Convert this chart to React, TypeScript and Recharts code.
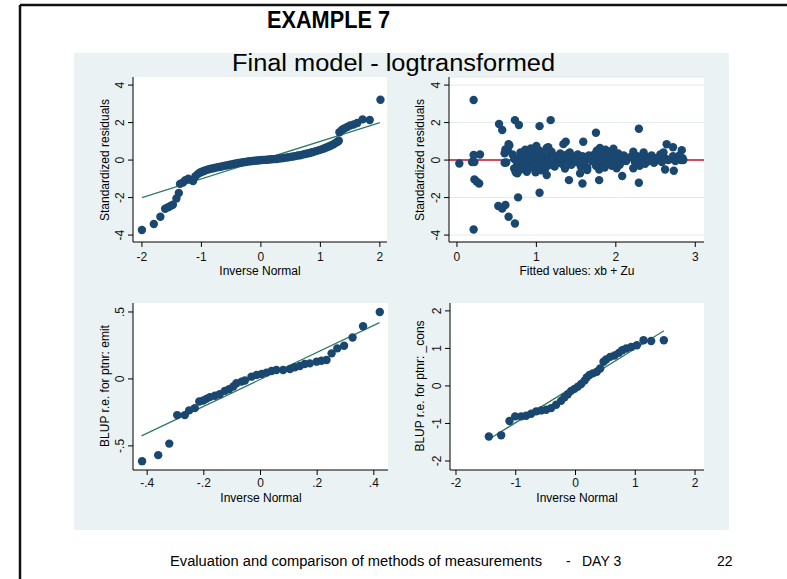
import React from 'react';
import { ScatterChart, Scatter, XAxis, YAxis, CartesianGrid, ReferenceLine } from 'recharts';

const FONT = '"Liberation Sans", Arial, Helvetica, sans-serif';
const NAVY = '#1a476f';
const FIT = '#2f7a62';
const RED = '#c8102e';
const PANEL = '#eaf2f3';

// ---- Panel 1: qnorm of standardized residuals ----
const resQnX = [-2.0, -1.8, -1.69, -1.61, -1.56, -1.52, -1.48, -1.42, -1.38, -1.36, -1.31, -1.27, -1.22, -1.17, -1.14, -1.1, -1.06, -1.03, -1.0, -0.97, -0.94, -0.9, -0.86, -0.82, -0.78, -0.74, -0.7, -0.66, -0.62, -0.58, -0.54, -0.5, -0.46, -0.42, -0.38, -0.34, -0.3, -0.26, -0.22, -0.18, -0.14, -0.1, -0.06, -0.02, 0.02, 0.06, 0.1, 0.14, 0.18, 0.22, 0.26, 0.3, 0.34, 0.38, 0.42, 0.46, 0.5, 0.54, 0.58, 0.62, 0.66, 0.7, 0.74, 0.78, 0.82, 0.86, 0.9, 0.94, 0.98, 1.02, 1.06, 1.1, 1.14, 1.18, 1.22, 1.26, 1.29, 1.31, 1.32, 1.36, 1.4, 1.45, 1.5, 1.56, 1.62, 1.71, 1.83, 2.01];
const resQnY = [-3.73, -3.41, -3.02, -2.6, -2.52, -2.45, -2.38, -2.05, -1.76, -1.27, -1.2, -1.08, -1.0, -1.07, -1.12, -0.86, -0.75, -0.68, -0.64, -0.6, -0.56, -0.52, -0.48, -0.45, -0.42, -0.39, -0.37, -0.34, -0.31, -0.29, -0.26, -0.24, -0.21, -0.18, -0.16, -0.14, -0.12, -0.1, -0.08, -0.06, -0.05, -0.04, -0.02, -0.01, 0.0, 0.01, 0.02, 0.03, 0.04, 0.05, 0.06, 0.08, 0.09, 0.11, 0.13, 0.15, 0.17, 0.19, 0.21, 0.24, 0.26, 0.29, 0.32, 0.35, 0.38, 0.42, 0.45, 0.49, 0.53, 0.57, 0.62, 0.67, 0.72, 0.78, 0.84, 0.92, 0.98, 1.03, 1.48, 1.6, 1.68, 1.76, 1.84, 1.9, 1.98, 2.17, 2.14, 3.22];
const resQnLine = [{ x: -2, y: -2 }, { x: 2, y: 2 }];

// ---- Panel 2: residuals vs fitted ----
const fittedX = [0.03, 0.21, 0.19, 0.22, 0.21, 0.29, 0.22, 0.25, 0.28, 0.21, 0.53, 0.57, 0.52, 0.57, 0.61, 0.65, 0.73, 0.77, 0.73, 0.78, 1.04, 1.18, 1.04, 1.75, 2.29, 2.29, 1.58, 1.79, 1.41, 2.08, 1.13, 1.59, 1.37, 1.34, 1.15, 0.65, 0.61, 0.6, 0.6, 2.64, 2.72, 2.83, 2.85, 2.73, 2.62, 2.22, 2.01, 1.64, 1.55, 0.76,
  0.62, 0.64, 0.66, 0.7, 0.72, 0.72, 0.74, 0.76, 0.78, 0.8, 0.8, 0.82, 0.84, 0.85, 0.86, 0.88, 0.88, 0.9, 0.91, 0.93, 0.94, 0.95, 0.97, 0.98, 0.99, 1.0, 1.01, 1.02, 1.04, 1.05, 1.06, 1.08, 1.09, 1.11, 1.12, 1.13, 1.14, 1.16, 1.17, 1.19, 1.21, 1.23, 1.25, 1.27, 1.3, 1.32, 1.34, 1.36, 1.38, 1.4, 1.42, 1.44, 1.47, 1.5, 1.52, 1.54, 1.56, 1.58, 1.6, 1.62, 1.64, 1.66, 1.7, 1.73, 1.75, 1.76, 1.78, 1.79, 1.8, 1.82, 1.83, 1.85, 1.86, 1.87, 1.89, 1.9, 1.92, 1.94, 1.95, 1.97, 1.99, 2.0, 2.03, 2.05, 2.07, 2.1, 2.13, 2.18, 2.22, 2.24, 2.27, 2.3, 2.32, 2.35, 2.37, 2.4, 2.42, 2.45, 2.48, 2.5, 2.53, 2.56, 2.58, 2.6, 2.62, 2.66, 2.7, 2.72, 2.75, 2.78, 2.8, 2.82, 2.84];
const residY = [-0.18, 3.2, -0.1, -0.1, 0.27, 0.3, -1.03, -1.16, -1.25, -3.7, 1.92, 1.6, -2.45, -2.58, -2.4, -3.02, -3.38, -1.99, 2.13, 1.87, 1.81, 2.13, -1.74, 1.46, 1.67, -1.21, -1.25, -1.07, -1.07, -0.85, -0.8, 0.98, 0.98, 0.85, 0.68, 0.85, 0.57, 0.36, -0.14, 0.84, 0.68, 0.53, 0.0, -0.57, -0.5, -0.44, -0.44, -0.53, -0.71, -0.71,
  -0.13, 0.52, 0.78, 0.3, 0.05, -0.45, -0.65, -0.2, 0.12, 0.4, -0.5, -0.05, 0.22, -0.3, 0.55, 0.05, -0.62, 0.3, -0.18, 0.62, 0.12, -0.4, 0.4, -0.08, -0.65, 0.75, 0.2, -0.3, 0.5, 0.0, -0.55, 0.3, -0.15, 0.1, -0.4, 0.65, -0.05, 0.25, -0.25, 0.45, 0.05, -0.35, 0.2, -0.1, 0.35, -0.2, 0.1, -0.45, 0.28, -0.05, 0.4, -0.25, 0.15, -0.1, 0.3, 0.0, -0.35, 0.2, -0.15, 0.05, -0.4, 0.25, -0.05, 0.3, -0.3, 0.5, 0.1, -0.5, 0.65, -0.15, 0.35, 0.0, -0.4, 0.55, 0.2, -0.2, 0.45, 0.05, -0.3, 0.6, 0.25, -0.1, 0.35, -0.25, 0.1, 0.25, -0.05, 0.15, 0.45, -0.1, 0.2, -0.3, 0.05, 0.4, -0.2, 0.15, -0.05, 0.25, -0.15, 0.1, 0.0, 0.3, -0.1, 0.4, 0.1, 0.0, 0.05, 0.2, -0.05, 0.1, 0.25, 0.0, 0.1];

// ---- Panel 3: qnorm of BLUP ptnr: emit ----
const emitQnX = [-0.418, -0.361, -0.322, -0.294, -0.267, -0.252, -0.232, -0.216, -0.202, -0.191, -0.179, -0.161, -0.144, -0.126, -0.111, -0.096, -0.085, -0.067, -0.055, -0.032, -0.014, 0.004, 0.021, 0.039, 0.056, 0.08, 0.104, 0.121, 0.139, 0.156, 0.174, 0.198, 0.215, 0.233, 0.251, 0.271, 0.295, 0.325, 0.362, 0.421];
const emitQnY = [-0.614, -0.569, -0.483, -0.27, -0.27, -0.235, -0.218, -0.168, -0.161, -0.149, -0.136, -0.126, -0.114, -0.089, -0.077, -0.057, -0.032, -0.02, -0.012, 0.017, 0.03, 0.037, 0.047, 0.059, 0.067, 0.067, 0.074, 0.087, 0.097, 0.111, 0.116, 0.129, 0.136, 0.141, 0.191, 0.228, 0.248, 0.309, 0.394, 0.5];
const emitQnLine = [{ x: -0.42, y: -0.425 }, { x: 0.42, y: 0.42 }];

// ---- Panel 4: qnorm of BLUP ptnr: _cons ----
const consQnX = [-1.45, -1.244, -1.105, -1.01, -0.909, -0.826, -0.742, -0.658, -0.575, -0.491, -0.407, -0.324, -0.24, -0.184, -0.128, -0.073, -0.017, 0.039, 0.095, 0.151, 0.19, 0.234, 0.29, 0.357, 0.413, 0.469, 0.513, 0.58, 0.653, 0.725, 0.781, 0.848, 0.932, 1.027, 1.138, 1.266, 1.478];
const consQnY = [-1.348, -1.313, -0.934, -0.811, -0.811, -0.793, -0.74, -0.678, -0.652, -0.634, -0.59, -0.502, -0.396, -0.3, -0.22, -0.132, -0.079, -0.018, 0.053, 0.141, 0.229, 0.291, 0.335, 0.379, 0.467, 0.643, 0.705, 0.775, 0.811, 0.881, 0.952, 0.996, 1.04, 1.084, 1.216, 1.198, 1.216];
const consQnLine = [{ x: -1.45, y: -1.42 }, { x: 1.48, y: 1.47 }];

// ---- ticks ----
const ticksRes = [-4, -2, 0, 2, 4];
const ticksInvNorm2 = [-2, -1, 0, 1, 2];
const ticksFitted = [0, 1, 2, 3];
const ticksEmitY = [-0.5, 0, 0.5];
const ticksEmitX = [-0.4, -0.2, 0, 0.2, 0.4];
const ticksConsY = [-2, -1, 0, 1, 2];

const zip = (xs: number[], ys: number[]) => xs.map((x, i) => ({ x, y: ys[i] }));
const fmt = (v: number) => (v === 0 ? '0' : String(v).replace('0.', '.'));

const YTick = (props: any) => {
  const { x, y, payload } = props;
  return (
    <text x={x} y={y} transform={`rotate(-90 ${x} ${y})`} textAnchor="middle" fontSize={12} fontFamily={FONT} fill="#111">
      {fmt(payload.value)}
    </text>
  );
};

const Dot = (p: any) => <circle cx={p.cx} cy={p.cy} r={4.2} fill={NAVY} />;

type PanelProps = {
  box: [number, number, number, number];
  xDomain: [number, number];
  yDomain: [number, number];
  xTicks: number[];
  yTicks: number[];
  data: { x: number; y: number }[];
  grid?: boolean;
  refLine?: { x: number; y: number }[];
  zeroLine?: boolean;
  xTickMargin?: number;
};

function Panel({ box, xDomain, yDomain, xTicks, yTicks, data, grid, refLine, zeroLine, xTickMargin = 5 }: PanelProps) {
  const [x0, y0, x1, y1] = box;
  const m = { top: 10, right: 10, bottom: 10, left: 10 };
  const yw = 40;
  const xh = 35;
  const width = x1 - x0 + m.left + m.right + yw;
  const height = y1 - y0 + m.top + m.bottom + xh;
  return (
    <div style={{ position: 'absolute', left: x0 - m.left - yw, top: y0 - m.top, width, height }}>
      <ScatterChart width={width} height={height} margin={m}>
        <CartesianGrid fill="#ffffff" stroke="#e2eaee" horizontal={!!grid} vertical={false} />
        <XAxis
          type="number"
          dataKey="x"
          domain={xDomain}
          ticks={xTicks}
          allowDataOverflow
          interval={0}
          height={xh}
          tickSize={5}
          tickMargin={xTickMargin}
          tickFormatter={fmt}
          axisLine={{ stroke: '#000' }}
          tickLine={{ stroke: '#000' }}
          tick={{ fontSize: 12, fill: '#111', fontFamily: FONT }}
        />
        <YAxis
          type="number"
          dataKey="y"
          domain={yDomain}
          ticks={yTicks}
          allowDataOverflow
          interval={0}
          width={yw}
          tickSize={5}
          tickMargin={4}
          axisLine={{ stroke: '#000' }}
          tickLine={{ stroke: '#000' }}
          tick={<YTick />}
        />
        {zeroLine && <ReferenceLine y={0} stroke={RED} strokeWidth={1.5} />}
        <Scatter data={data} shape={Dot} isAnimationActive={false} />
        {refLine && <ReferenceLine segment={refLine as any} stroke={FIT} strokeWidth={1.3} />}
      </ScatterChart>
    </div>
  );
}

const txt = { fontFamily: FONT, fill: '#000' } as const;

export default function App() {
  return (
    <div style={{ position: 'absolute', left: 0, top: 0, width: 787, height: 579, background: '#fff', overflow: 'hidden' }}>
      <svg width={787} height={579} style={{ position: 'absolute', left: 0, top: 0 }}>
        <rect x={0} y={0} width={787} height={579} fill="#fff" />
        <line x1={20} y1={5} x2={787} y2={5} stroke="#111" strokeWidth={2.5} />
        <line x1={20} y1={5} x2={20} y2={579} stroke="#111" strokeWidth={2.5} />
        <rect x={74} y={53} width={655} height={477} fill={PANEL} />
      </svg>

      <Panel box={[133, 77, 387, 242]} xDomain={[-2.15, 2.12]} yDomain={[-4.37, 4.43]} xTicks={ticksInvNorm2} yTicks={ticksRes} data={zip(resQnX, resQnY)} refLine={resQnLine} />
      <Panel box={[449, 77, 704, 242]} xDomain={[-0.1, 3.11]} yDomain={[-4.37, 4.43]} xTicks={ticksFitted} yTicks={ticksRes} data={zip(fittedX, residY)} grid zeroLine />
      <Panel box={[133, 303, 388, 470]} xDomain={[-0.45, 0.45]} yDomain={[-0.68, 0.567]} xTicks={ticksEmitX} yTicks={ticksEmitY} data={zip(emitQnX, emitQnY)} refLine={emitQnLine} xTickMargin={3} />
      <Panel box={[450, 303, 704, 470]} xDomain={[-2.1, 2.15]} yDomain={[-2.24, 2.21]} xTicks={ticksInvNorm2} yTicks={ticksConsY} data={zip(consQnX, consQnY)} refLine={consQnLine} xTickMargin={3} />

      <svg width={787} height={579} style={{ position: 'absolute', left: 0, top: 0, pointerEvents: 'none' }}>
        <text x={267} y={28} fontSize={24} fontWeight="bold" textLength={123} lengthAdjust="spacingAndGlyphs" {...txt}>EXAMPLE 7</text>
        <text x={232} y={71} fontSize={23} textLength={323} lengthAdjust="spacingAndGlyphs" {...txt}>Final model - logtransformed</text>

        <text x={260} y={275} fontSize={12} textAnchor="middle" {...txt}>Inverse Normal</text>
        <text x={109} y={160} fontSize={12} textAnchor="middle" transform="rotate(-90 109 160)" {...txt}>Standardized residuals</text>
        <text x={577} y={275} fontSize={12} textAnchor="middle" {...txt}>Fitted values: xb + Zu</text>
        <text x={424} y={160} fontSize={12} textAnchor="middle" transform="rotate(-90 424 160)" {...txt}>Standardized residuals</text>
        <text x={261} y={502} fontSize={12} textAnchor="middle" {...txt}>Inverse Normal</text>
        <text x={109} y={386} fontSize={12} textAnchor="middle" transform="rotate(-90 109 386)" {...txt}>BLUP r.e. for ptnr: emit</text>
        <text x={577} y={502} fontSize={12} textAnchor="middle" {...txt}>Inverse Normal</text>
        <text x={424} y={386} fontSize={12} textAnchor="middle" transform="rotate(-90 424 386)" {...txt}>BLUP r.e. for ptnr: _cons</text>

        <text x={170} y={566} fontSize={14} textLength={372} lengthAdjust="spacingAndGlyphs" {...txt}>Evaluation and comparison of methods of measurements</text>
        <text x={566} y={566} fontSize={14} {...txt}>-</text>
        <text x={582} y={566} fontSize={14} {...txt}>DAY 3</text>
        <text x={717} y={566} fontSize={14} {...txt}>22</text>
      </svg>
    </div>
  );
}
